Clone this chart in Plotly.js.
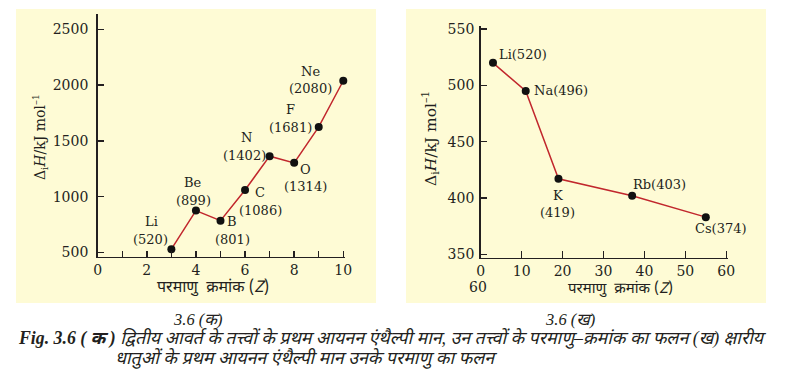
<!DOCTYPE html>
<html>
<head>
<meta charset="utf-8">
<script src="https://cdn.plot.ly/plotly-3.0.1.min.js"></script>
<style>
html,body{margin:0;padding:0;background:#ffffff;}
#chart{width:787px;height:377px;}
</style>
</head>
<body>
<div id="chart"></div>
<script>
// ---------- DATA ----------
// Panel 3.6 (क): second period elements
const elementsA = ['Li', 'Be', 'B', 'C', 'N', 'O', 'F', 'Ne'];
const atomicNumberA = [3, 4, 5, 6, 7, 8, 9, 10];
const enthalpyA = [529, 875, 785, 1060, 1363, 1303, 1625, 2039];
const labelValuesA = ['520', '899', '801', '1086', '1402', '1314', '1681', '2080'];

// Panel 3.6 (ख): alkali metals
const elementsB = ['Li', 'Na', 'K', 'Rb', 'Cs'];
const atomicNumberB = [3, 11, 19, 37, 55];
const enthalpyB = [520, 495, 417, 402, 383];
const labelValuesB = ['520', '496', '419', '403', '374'];

// Tick labels
const xTickValsA = [0, 2, 4, 6, 8, 10];
const yTickValsA = [500, 1000, 1500, 2000, 2500];
const xTickValsB = [0, 10, 20, 30, 40, 50, 60];
const yTickValsB = [350, 400, 450, 500, 550];

// Texts
const yTitle = 'Δ<sub>i</sub><i>H</i>/kJ mol<sup>–1</sup>';
const xTitle = 'परमाणु  क्रमांक (<i>Z</i>)';
const subCaptionA = '<i>3.6 (क)</i>';
const subCaptionB = '<i>3.6 (ख)</i>';
const captionLine1 = '<b><i>Fig. 3.6 ( क )</i></b> <i>द्वितीय आवर्त के तत्त्वों के प्रथम आयनन एंथैल्पी मान, उन तत्त्वों के परमाणु–क्रमांक का फलन (ख) क्षारीय</i>';
const captionLine2 = '<i>धातुओं के प्रथम आयनन एंथैल्पी मान उनके परमाणु का फलन</i>';

// ---------- LAYOUT HELPERS (pixel -> paper) ----------
const W = 787, H = 377;
const px = v => v / W;
const py = v => 1 - v / H;

const SERIF = '"DejaVu Serif", "Noto Sans Devanagari", "Noto Sans", serif';
const DEVA = '"Noto Sans Devanagari", "Noto Sans", "DejaVu Sans", sans-serif';
const CAPF = '"Liberation Serif", "Noto Sans Devanagari", "Noto Serif Devanagari", "Noto Sans", serif';
const INK = '#231f20';
const RED = '#c1272d';
const YEL = '#fefbd5';

// label placements (pixel centres of each text line)
const nameposA  = [[151.5, 221.7], [193.3, 182.7], [231.7, 221.7], [260, 192.7], [246.7, 137.3], [305, 169], [290, 109.3], [310, 71.7]];
const valueposA = [[150, 239.3], [193.3, 200], [232.3, 239.3], [260.7, 210.7], [245, 155], [305, 186.7], [290, 127.3], [310, 89]];
// right panel: single-line labels, except K which has its value on a second line
const nameposB  = [[522.5, 54.3], [560.5, 90], [557.7, 195], [659.5, 184.3], [720.8, 228.7]];
const valueposB = [null, null, [557.3, 212], null, null];

const traces = [
  {
    x: atomicNumberA, y: enthalpyA, xaxis: 'x', yaxis: 'y',
    type: 'scatter', mode: 'lines+markers',
    line: {color: RED, width: 1.5},
    marker: {color: '#111111', size: 8},
    cliponaxis: false, hoverinfo: 'none', showlegend: false
  },
  {
    x: atomicNumberB, y: enthalpyB, xaxis: 'x2', yaxis: 'y2',
    type: 'scatter', mode: 'lines+markers',
    line: {color: RED, width: 1.5},
    marker: {color: '#111111', size: 8},
    cliponaxis: false, hoverinfo: 'none', showlegend: false
  }
];

const axisCommon = {
  showline: true, linecolor: INK, linewidth: 1.6,
  ticks: 'inside', tickcolor: INK, tickwidth: 1.5, ticklen: 6,
  showgrid: false, zeroline: false,
  tickfont: {family: SERIF, size: 14, color: INK},
  fixedrange: true
};

function txt(x, y, text, font, extra) {
  return Object.assign({
    xref: 'paper', yref: 'paper', x: px(x), y: py(y),
    xanchor: 'center', yanchor: 'middle', showarrow: false,
    text: text, font: font
  }, extra || {});
}
const labelFont = {family: SERIF, size: 13, color: INK};

const annotations = [];
elementsA.forEach((el, i) => {
  annotations.push(txt(nameposA[i][0], nameposA[i][1], el, labelFont));
  annotations.push(txt(valueposA[i][0], valueposA[i][1], '(' + labelValuesA[i] + ')', labelFont));
});
elementsB.forEach((el, i) => {
  if (valueposB[i]) {
    annotations.push(txt(nameposB[i][0], nameposB[i][1], el, labelFont));
    annotations.push(txt(valueposB[i][0], valueposB[i][1], '(' + labelValuesB[i] + ')', labelFont));
  } else {
    annotations.push(txt(nameposB[i][0], nameposB[i][1], el + '(' + labelValuesB[i] + ')', labelFont));
  }
});
// axis titles
annotations.push(txt(40, 137, yTitle, {family: SERIF, size: 14, color: INK}, {textangle: -90}));
annotations.push(txt(430, 139, yTitle, {family: SERIF, size: 15.5, color: INK}, {textangle: -90}));
annotations.push(txt(213, 288.5, xTitle, {family: DEVA, size: 16, color: INK}));
annotations.push(txt(620, 289, xTitle, {family: DEVA, size: 15, color: INK}));
annotations.push(txt(478, 286.5, '60', {family: SERIF, size: 14, color: INK}));
// captions
annotations.push(txt(197, 319.5, subCaptionA, {family: CAPF, size: 16.5, color: INK}));
annotations.push(txt(570, 319.5, subCaptionB, {family: CAPF, size: 16.5, color: INK}));
annotations.push(txt(16, 338, captionLine1, {family: CAPF, size: 17.8, color: INK}, {xanchor: 'left'}));
annotations.push(txt(113, 358, captionLine2, {family: CAPF, size: 17.8, color: INK}, {xanchor: 'left'}));

const layout = {
  width: W, height: H,
  margin: {l: 0, r: 0, t: 0, b: 0, pad: 0},
  paper_bgcolor: '#ffffff',
  plot_bgcolor: 'rgba(0,0,0,0)',
  showlegend: false,
  xaxis: Object.assign({}, axisCommon, {
    domain: [px(97.7), px(345)], range: [0, 10.07], anchor: 'y',
    tickmode: 'array', tickvals: xTickValsA,
    minor: {dtick: 1, ticks: 'inside', ticklen: 6, tickwidth: 1.5, tickcolor: INK, showgrid: false}
  }),
  yaxis: Object.assign({}, axisCommon, {
    domain: [py(256.7), py(14)], range: [462, 2637], anchor: 'x',
    tickmode: 'array', tickvals: yTickValsA, ticklabelstandoff: 5
  }),
  xaxis2: Object.assign({}, axisCommon, {
    domain: [px(480.7), px(727.5)], range: [0, 60.3], anchor: 'y2',
    tickmode: 'array', tickvals: xTickValsB, ticklen: 7
  }),
  yaxis2: Object.assign({}, axisCommon, {
    domain: [py(257.7), py(26)], range: [347, 552.7], anchor: 'x2',
    tickmode: 'array', tickvals: yTickValsB, ticklabelstandoff: 2
  }),
  shapes: [
    {type: 'rect', xref: 'paper', yref: 'paper', layer: 'below',
     x0: px(16), x1: px(376), y0: py(303), y1: py(9), fillcolor: YEL, line: {width: 0}},
    {type: 'rect', xref: 'paper', yref: 'paper', layer: 'below',
     x0: px(406), x1: px(766), y0: py(303), y1: py(9), fillcolor: YEL, line: {width: 0}}
  ],
  annotations: annotations
};

Plotly.newPlot('chart', traces, layout, {displayModeBar: false, staticPlot: true});
</script>
</body>
</html>
